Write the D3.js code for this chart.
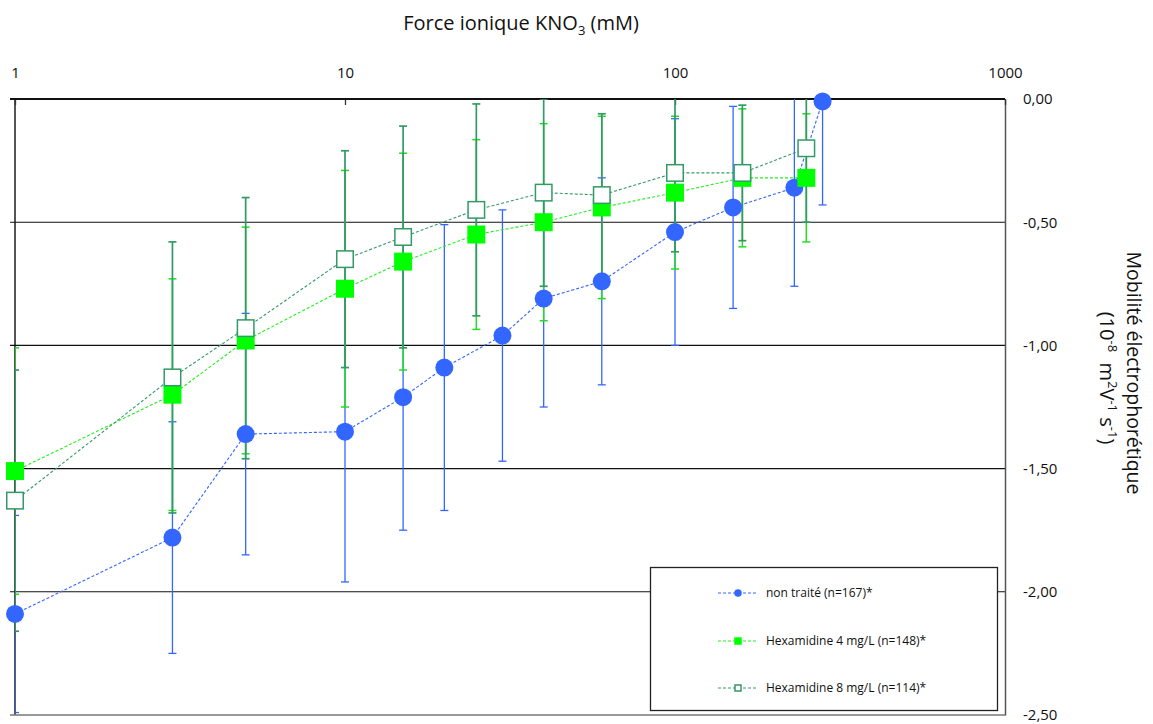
<!DOCTYPE html>
<html>
<head>
<meta charset="utf-8">
<script src="https://cdn.jsdelivr.net/npm/d3@7"></script>
<style>
  html, body { margin: 0; padding: 0; background: #fff; }
  svg { display: block; font-family: "Open Sans", sans-serif; }
</style>
</head>
<body>
<svg id="chart" width="1153" height="724"></svg>
<script>
// ---- data ----
const xTicks = [1, 10, 100, 1000];
const yTicks = [0, -0.5, -1, -1.5, -2, -2.5];

const nonTraiteX   = [1, 3, 5, 10, 15, 20, 30, 40, 60, 100, 150, 230, 280];
const nonTraiteY   = [-2.09, -1.78, -1.36, -1.35, -1.21, -1.09, -0.96, -0.81, -0.74, -0.54, -0.44, -0.36, -0.01];
const nonTraiteErr = [0.40, 0.47, 0.49, 0.61, 0.54, 0.58, 0.51, 0.44, 0.42, 0.46, 0.41, 0.40, 0.42];

const hexaX = [1, 3, 5, 10, 15, 25, 40, 60, 100, 160, 250];
const hexa4Y   = [-1.51, -1.20, -0.98, -0.77, -0.66, -0.55, -0.50, -0.44, -0.38, -0.32, -0.32];
const hexa4Err = [0.50, 0.47, 0.46, 0.48, 0.44, 0.385, 0.40, 0.37, 0.31, 0.28, 0.26];
const hexa8Y   = [-1.63, -1.13, -0.93, -0.65, -0.56, -0.45, -0.38, -0.39, -0.30, -0.30, -0.20];
const hexa8Err = [0.53, 0.55, 0.53, 0.44, 0.45, 0.43, 0.38, 0.33, 0.32, 0.275, 0.30];

const seriesNames = ["non traité (n=167)*", "Hexamidine 4 mg/L (n=148)*", "Hexamidine 8 mg/L (n=114)*"];

// ---- build series ----
const zip = (xs, ys, es) => xs.map((x, i) => ({x, y: ys[i], e: es[i]}));
const series = [
  {name: seriesNames[0], data: zip(nonTraiteX, nonTraiteY, nonTraiteErr), bar: "#3366ff", barW: 1.3, line: "#3366ff", marker: "circle"},
  {name: seriesNames[1], data: zip(hexaX, hexa4Y, hexa4Err), bar: "#22dd22", barW: 1.5, line: "#1ef01e", marker: "square"},
  {name: seriesNames[2], data: zip(hexaX, hexa8Y, hexa8Err), bar: "#339966", barW: 1.7, line: "#339966", marker: "open"}
];

const svg = d3.select("#chart");
const L = 15, R = 1005, T = 99, B = 715;
const x = d3.scaleLog().domain([1, 1000]).range([L, R]);
const y = d3.scaleLinear().domain([0, -2.5]).range([T, B]);

const locale = d3.formatLocale({decimal: ",", thousands: " ", grouping: [3], currency: ["", ""], minus: "-"});
const fmt = locale.format(".2f");

svg.append("defs").append("clipPath").attr("id", "plotclip")
  .append("rect").attr("x", L).attr("y", T).attr("width", R - L).attr("height", B - T);

// plot border (gray)
svg.append("line").attr("x1", L).attr("x2", L).attr("y1", T).attr("y2", B).attr("stroke", "#555").attr("stroke-width", 2);
svg.append("line").attr("x1", 10).attr("x2", R).attr("y1", B).attr("y2", B).attr("stroke", "#777").attr("stroke-width", 1.5);

// gridlines
svg.append("g").selectAll("line").data(yTicks.filter(v => v !== 0 && v !== -2.5)).join("line")
  .attr("x1", 10).attr("x2", R).attr("y1", d => y(d)).attr("y2", d => y(d))
  .attr("stroke", "#111").attr("stroke-width", 1.1);

// y axis (right)
const yAxis = svg.append("g").attr("transform", `translate(${R},0)`)
  .call(d3.axisRight(y).tickValues(yTicks).tickFormat(fmt).tickSize(0).tickPadding(18));
yAxis.select(".domain").attr("stroke", "#555").attr("stroke-width", 1.5);
yAxis.selectAll("text").attr("font-family", "Open Sans").attr("font-size", 15).attr("fill", "#111");

// x axis (top)
const xAxis = svg.append("g").attr("transform", `translate(0,${T})`)
  .call(d3.axisTop(x).tickValues(xTicks).tickFormat(d3.format("d")).tickSizeInner(-6).tickSizeOuter(0).tickPadding(21));
xAxis.select(".domain").remove();
xAxis.selectAll(".tick line").attr("stroke", "#333").attr("stroke-width", 1.3);
xAxis.selectAll("text").attr("font-family", "Open Sans").attr("font-size", 15).attr("fill", "#111");
svg.append("line").attr("x1", 10).attr("x2", R).attr("y1", T).attr("y2", T).attr("stroke", "#111").attr("stroke-width", 1.8);

// error bars
const eb = svg.append("g").attr("clip-path", "url(#plotclip)");
series.forEach(s => {
  const g = eb.append("g").attr("stroke", s.bar).attr("stroke-width", s.barW).attr("fill", "none");
  g.selectAll("line.v").data(s.data).join("line").attr("class", "v")
    .attr("x1", d => x(d.x)).attr("x2", d => x(d.x))
    .attr("y1", d => y(d.y + d.e)).attr("y2", d => y(d.y - d.e));
  g.selectAll("line.t").data(s.data).join("line").attr("class", "t")
    .attr("x1", d => x(d.x) - 4).attr("x2", d => x(d.x) + 4)
    .attr("y1", d => y(d.y + d.e)).attr("y2", d => y(d.y + d.e));
  g.selectAll("line.b").data(s.data).join("line").attr("class", "b")
    .attr("x1", d => x(d.x) - 4).attr("x2", d => x(d.x) + 4)
    .attr("y1", d => y(d.y - d.e)).attr("y2", d => y(d.y - d.e));
});

// dashed lines
const lineGen = d3.line().x(d => x(d.x)).y(d => y(d.y));
series.forEach(s => {
  svg.append("path").datum(s.data).attr("d", lineGen)
    .attr("fill", "none").attr("stroke", s.line).attr("stroke-width", 1.1).attr("stroke-dasharray", "3,2");
});

// markers
function drawMarker(g, type, cx, cy, size) {
  if (type === "circle") {
    g.append("circle").attr("cx", cx).attr("cy", cy).attr("r", size / 2).attr("fill", "#3366ff");
  } else if (type === "square") {
    g.append("rect").attr("x", cx - size / 2).attr("y", cy - size / 2).attr("width", size).attr("height", size).attr("fill", "#00ff00");
  } else {
    const s2 = size - 1.5;
    g.append("rect").attr("x", cx - s2 / 2).attr("y", cy - s2 / 2).attr("width", s2).attr("height", s2)
      .attr("fill", "#fff").attr("stroke", "#339966").attr("stroke-width", 1.5);
  }
}
series.forEach(s => {
  const g = svg.append("g");
  s.data.forEach(d => drawMarker(g, s.marker, x(d.x), y(d.y), 18));
});

// legend
const lg = svg.append("g");
lg.append("rect").attr("x", 650.5).attr("y", 567.5).attr("width", 347).attr("height", 143)
  .attr("fill", "#fff").attr("stroke", "#222").attr("stroke-width", 1.3);
const rowsY = [593, 641, 688];
series.forEach((s, i) => {
  const ry = rowsY[i];
  lg.append("line").attr("x1", 718).attr("x2", 757).attr("y1", ry).attr("y2", ry)
    .attr("stroke", s.line).attr("stroke-width", 1).attr("stroke-dasharray", "3,2");
  drawMarker(lg, s.marker, 738, ry, 7.5);
  lg.append("text").attr("x", 766).attr("y", ry + 4).attr("font-size", 12).attr("fill", "#111").text(s.name);
});

// x title
const xt = svg.append("text").attr("x", 521).attr("y", 30).attr("text-anchor", "middle")
  .attr("font-size", 20).attr("fill", "#111");
xt.append("tspan").text("Force ionique KNO");
xt.append("tspan").attr("font-size", 13).attr("dy", 5).text("3");
xt.append("tspan").attr("dy", -5).text(" (mM)");

// y title (rotated)
svg.append("text").attr("transform", "translate(1127,373) rotate(90)")
  .attr("text-anchor", "middle").attr("font-size", 19.5).attr("fill", "#111").text("Mobilité électrophorétique");
const yt2 = svg.append("text").attr("transform", "translate(1100,378) rotate(90)")
  .attr("text-anchor", "middle").attr("font-size", 20).attr("fill", "#111").attr("xml:space", "preserve");
yt2.append("tspan").text("(10");
yt2.append("tspan").attr("font-size", 13).attr("dy", -8).text("-8");
yt2.append("tspan").attr("dy", 8).text("\u00a0 m");
yt2.append("tspan").attr("font-size", 13).attr("dy", -8).text("2");
yt2.append("tspan").attr("dy", 8).text("V");
yt2.append("tspan").attr("font-size", 13).attr("dy", -8).text("-1");
yt2.append("tspan").attr("dy", 8).text(" s");
yt2.append("tspan").attr("font-size", 13).attr("dy", -8).text("-1");
yt2.append("tspan").attr("dy", 8).text(")");
</script>
</body>
</html>
